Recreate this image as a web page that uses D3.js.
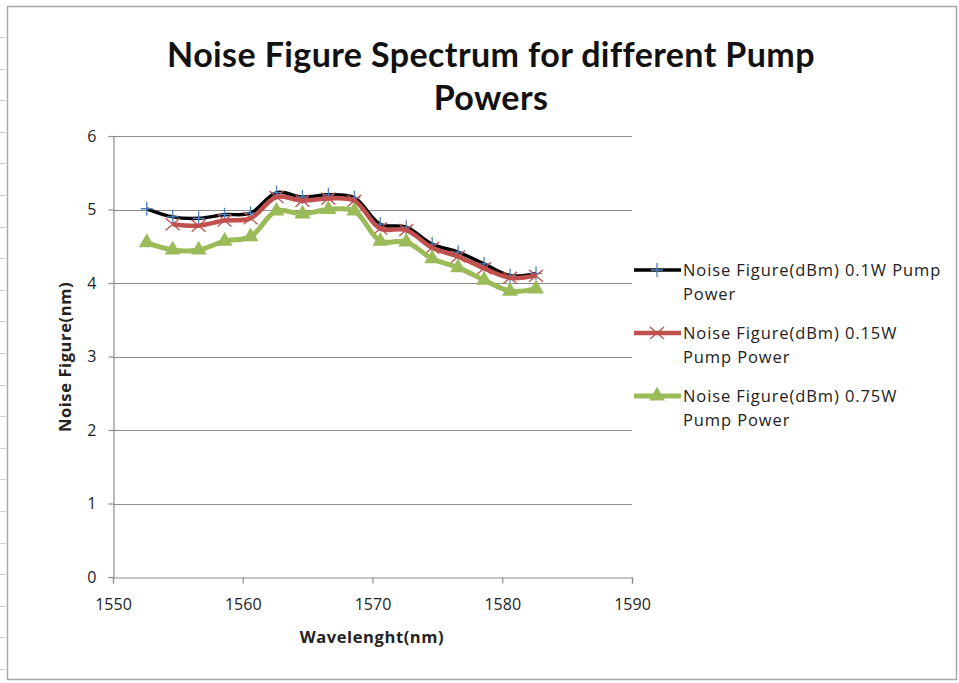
<!DOCTYPE html>
<html><head><meta charset="utf-8">
<script src="https://cdn.jsdelivr.net/npm/d3@7/dist/d3.min.js"></script>
<style>html,body{margin:0;padding:0;background:#fff;}svg{display:block;}</style>
</head><body>
<script>
const wavelengths = [1552.6,1554.6,1556.6,1558.6,1560.6,1562.6,1564.6,1566.6,1568.6,1570.6,1572.6,1574.6,1576.6,1578.6,1580.6,1582.6];
const nf01 = [5.01,4.90,4.88,4.93,4.95,5.23,5.17,5.20,5.16,4.80,4.76,4.53,4.42,4.26,4.10,4.13];
const nf015 = [null,4.80,4.78,4.85,4.88,5.17,5.12,5.15,5.12,4.74,4.72,4.48,4.36,4.20,4.07,4.10];
const nf075 = [4.55,4.45,4.45,4.57,4.63,4.98,4.94,5.00,4.98,4.57,4.56,4.33,4.21,4.04,3.89,3.92];
const xTicks = [1550,1560,1570,1580,1590];
const yTicks = [0,1,2,3,4,5,6];
const seriesNames = [
  ["Noise Figure(dBm) 0.1W Pump","Power"],
  ["Noise Figure(dBm) 0.15W","Pump Power"],
  ["Noise Figure(dBm) 0.75W","Pump Power"]
];
const titleLines = ["Noise Figure Spectrum for different Pump","Powers"];

const W=959,H=683;
const svg=d3.select("body").append("svg").attr("width",W).attr("height",H);
const font="'Open Sans', sans-serif";

// outer frame
svg.append("rect").attr("x",7.5).attr("y",6.5).attr("width",949).attr("height",673)
  .attr("fill","none").attr("stroke","#a6a6a6").attr("stroke-width",1.5);
for(let yy=37;yy<H;yy+=31.6){
  svg.append("line").attr("x1",0).attr("x2",6).attr("y1",Math.round(yy)+0.5).attr("y2",Math.round(yy)+0.5)
   .attr("stroke","#cfcfcf");
}

const x=d3.scaleLinear().domain([1550,1590]).range([113,632]);
const y=d3.scaleLinear().domain([0,6]).range([577,136]);

// gridlines
svg.append("g").selectAll("line").data(yTicks.filter(d=>d>0)).join("line")
  .attr("x1",113).attr("x2",632).attr("y1",d=>Math.round(y(d))+0.5).attr("y2",d=>Math.round(y(d))+0.5)
  .attr("stroke","#8c8c8c").attr("stroke-width",1.2);

// axes
const yAxis=d3.axisLeft(y).tickValues(yTicks).tickSize(5).tickPadding(12).tickFormat(d3.format("d"));
const gy=svg.append("g").attr("transform","translate(113.5,0)").call(yAxis);
const xAxis=d3.axisBottom(x).tickValues(xTicks).tickSize(6).tickPadding(15).tickFormat(d3.format("d"));
const gx=svg.append("g").attr("transform","translate(0,577.5)").call(xAxis);
[gx,gy].forEach(g=>{
  g.selectAll("path,line").attr("stroke","#8c8c8c").attr("stroke-width",1.2);
  g.selectAll("text").attr("font-family",font).attr("font-size",16).attr("fill","#222");
});

// axis titles
svg.append("text").attr("x",372).attr("y",643).attr("text-anchor","middle")
  .attr("font-family",font).attr("font-weight","bold").attr("font-size",16.5).attr("letter-spacing",0.6).attr("fill","#222")
  .text("Wavelenght(nm)");
svg.append("text").attr("transform","translate(71,357) rotate(-90)").attr("text-anchor","middle")
  .attr("font-family",font).attr("font-weight","bold").attr("font-size",16.5).attr("letter-spacing",0.6).attr("fill","#222")
  .text("Noise Figure(nm)");

// title
svg.selectAll("text.title").data(titleLines).join("text").attr("class","title")
  .attr("x",491).attr("y",(d,i)=>67+i*43).attr("text-anchor","middle")
  .attr("font-family","Lato, sans-serif").attr("font-weight","bold").attr("font-size",34).attr("letter-spacing",0.4).attr("fill","#111")
  .text(d=>d);

const series=[
  {vals:nf01,color:"#000000",width:3.5,marker:"plus",mcolor:"#4f81bd"},
  {vals:nf015,color:"#c0504d",width:4.5,marker:"cross",mcolor:"#c0504d"},
  {vals:nf075,color:"#9bbb59",width:5,marker:"tri",mcolor:"#9bbb59"}
];
const line=d3.line().defined(d=>d[1]!=null).x(d=>x(d[0])).y(d=>y(d[1])).curve(d3.curveCatmullRom.alpha(0.5));

function drawMarker(g,type,cx,cy,color){
  if(type==="plus"){
    g.append("path").attr("d",`M${cx-6},${cy}H${cx+6}M${cx},${cy-7}V${cy+7}`).attr("stroke",color).attr("stroke-width",1.3).attr("fill","none");
  }else if(type==="cross"){
    g.append("path").attr("d",`M${cx-7},${cy-6}L${cx+7},${cy+6}M${cx-7},${cy+6}L${cx+7},${cy-6}`).attr("stroke",color).attr("stroke-width",1.3).attr("fill","none");
  }else{
    g.append("path").attr("d",d3.symbol().type(d3.symbolTriangle).size(110)()).attr("transform",`translate(${cx},${cy})`).attr("fill",color);
  }
}

series.forEach(s=>{
  const pts=wavelengths.map((w,i)=>[w,s.vals[i]]);
  const g=svg.append("g");
  g.append("path").datum(pts).attr("d",line).attr("fill","none").attr("stroke",s.color).attr("stroke-width",s.width).attr("stroke-linejoin","round");
  pts.filter(p=>p[1]!=null).forEach(p=>drawMarker(g,s.marker,x(p[0]),y(p[1]),s.mcolor));
});

// legend
const legY=[270,333,396];
seriesNames.forEach((lines,i)=>{
  const s=series[i];
  const g=svg.append("g");
  g.append("line").attr("x1",634).attr("x2",681).attr("y1",legY[i]).attr("y2",legY[i]).attr("stroke",s.color).attr("stroke-width",s.width);
  drawMarker(g,s.marker,657,legY[i],s.mcolor);
  lines.forEach((t,j)=>{
    g.append("text").attr("x",683).attr("y",legY[i]+6+j*24).attr("font-family",font).attr("font-size",16.5).attr("letter-spacing",0.9).attr("fill","#222").text(t);
  });
});
</script>
</body></html>
